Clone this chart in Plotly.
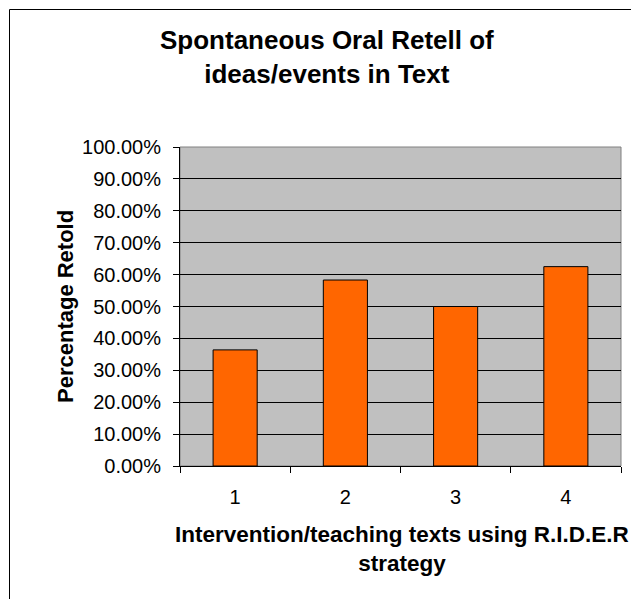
import plotly.graph_objects as go

# Retell results per intervention text
texts = ["1", "2", "3", "4"]
pct_retold = [0.364, 0.583, 0.500, 0.625]
y_ticks = [i / 10 for i in range(11)]

chart_title = "Spontaneous Oral Retell of<br>ideas/events in Text"
x_title = "Intervention/teaching texts using R.I.D.E.R<br>strategy"
y_title = "Percentage Retold"

FONT = "Liberation Sans, Arial, sans-serif"

W, H = 631, 599
L, R, T, B = 180, 10, 147, 133
pw, ph = W - L - R, H - T - B


def px_x(p):
    """Pixel column -> paper x."""
    return (p - L) / pw


def px_y(p):
    """Pixel row -> paper y."""
    return (H - B - p) / ph


fig = go.Figure(
    go.Bar(
        x=texts,
        y=pct_retold,
        width=0.4,
        marker=dict(color="#FF6600", line=dict(color="#000000", width=1)),
    )
)

fig.update_layout(
    width=W,
    height=H,
    margin=dict(l=L, r=R, t=T, b=B, autoexpand=False),
    paper_bgcolor="white",
    plot_bgcolor="#C0C0C0",
    showlegend=False,
    font=dict(family=FONT, color="black"),
    xaxis=dict(
        type="category",
        showgrid=False,
        showline=True,
        linecolor="black",
        linewidth=1,
        ticks="outside",
        tickson="boundaries",
        ticklen=6,
        tickcolor="black",
        ticklabelstandoff=13,
        tickfont=dict(size=20, family=FONT),
        automargin=False,
    ),
    yaxis=dict(
        range=[0, 1],
        tickvals=y_ticks,
        tickformat=".2%",
        showgrid=True,
        gridcolor="black",
        gridwidth=1,
        showline=True,
        linecolor="black",
        linewidth=1,
        ticks="outside",
        ticklen=6,
        tickcolor="black",
        ticklabelstandoff=8,
        tickfont=dict(size=20, family=FONT),
        zeroline=False,
        automargin=False,
    ),
    annotations=[
        dict(
            text=chart_title,
            xref="paper",
            yref="paper",
            x=px_x(327),
            y=px_y(56.9),
            xanchor="center",
            yanchor="middle",
            showarrow=False,
            font=dict(size=26, family=FONT, weight="bold"),
        ),
        dict(
            text=y_title,
            textangle=-90,
            xref="paper",
            yref="paper",
            x=px_x(51),
            y=0.5,
            showarrow=False,
            font=dict(size=22, family=FONT, weight="bold"),
        ),
        dict(
            text=x_title,
            xref="paper",
            yref="paper",
            x=px_x(402),
            y=px_y(549),
            xanchor="center",
            yanchor="middle",
            showarrow=False,
            font=dict(size=22.5, family=FONT, weight="bold"),
        ),
    ],
    shapes=[
        # plot-area frame
        dict(type="rect", xref="paper", yref="paper", x0=0, x1=1, y0=0, y1=1,
             line=dict(color="#808080", width=1), layer="below"),
        # chart-area border
        dict(type="rect", xref="paper", yref="paper",
             x0=px_x(9.5), x1=px_x(700), y0=px_y(700), y1=px_y(9.5),
             line=dict(color="black", width=1)),
    ],
)

fig.write_html("out.html")
